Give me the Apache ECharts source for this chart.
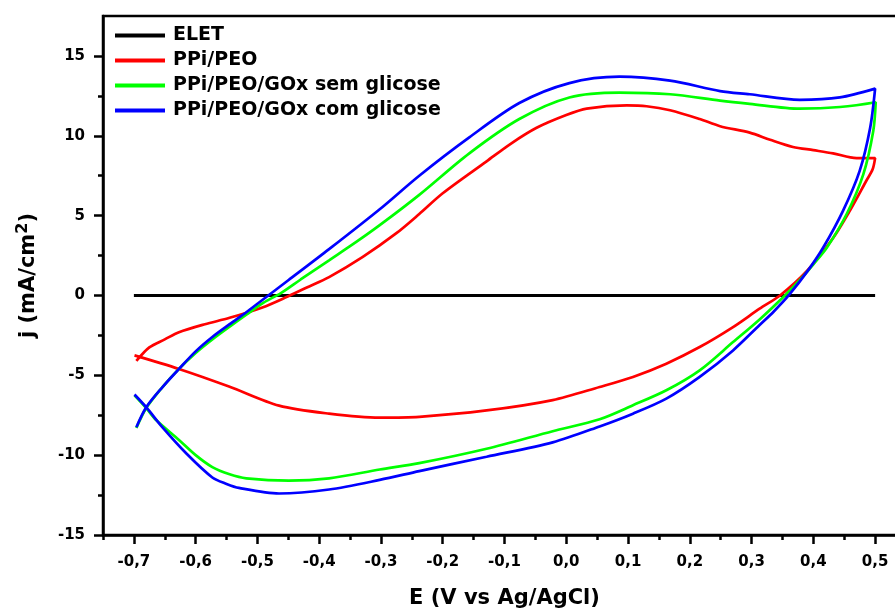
<!DOCTYPE html>
<html>
<head>
<meta charset="utf-8">
<script src="https://cdn.jsdelivr.net/npm/echarts@6/dist/echarts.min.js"></script>
<style>html,body{margin:0;padding:0;background:#fff}#c{width:895px;height:610px}</style>
</head>
<body>
<div id="c"></div>
<script>
// ---- data ----
const seriesNames = ['ELET', 'PPi/PEO', 'PPi/PEO/GOx sem glicose', 'PPi/PEO/GOx com glicose'];

const eletE = [-0.7, -0.4, 0.0, 0.3, 0.5];
const eletJ = [0, 0, 0, 0, 0];

const redE = [-0.696, -0.675, -0.65, -0.627, -0.585, -0.545, -0.492, -0.453, -0.42, -0.384, -0.33, -0.275, -0.238, -0.2, -0.129, -0.09, -0.048, 0.0, 0.033, 0.098, 0.13, 0.168, 0.216, 0.249, 0.297, 0.33, 0.367, 0.4, 0.432, 0.47, 0.5,
  0.496, 0.486, 0.459, 0.432, 0.39, 0.346, 0.313, 0.27, 0.216, 0.162, 0.108, 0.054, -0.022, -0.129, -0.238, -0.302, -0.384, -0.465, -0.546, -0.627, -0.699];
const redJ = [-4.1, -3.25, -2.75, -2.3, -1.8, -1.4, -0.75, -0.1, 0.5, 1.15, 2.4, 3.9, 5.1, 6.4, 8.4, 9.5, 10.5, 11.3, 11.7, 11.9, 11.85, 11.6, 11.05, 10.6, 10.2, 9.75, 9.3, 9.1, 8.9, 8.6, 8.6,
  7.9, 7.2, 5.3, 3.6, 1.55, 0.0, -0.83, -1.98, -3.23, -4.27, -5.1, -5.73, -6.55, -7.2, -7.6, -7.65, -7.4, -6.9, -5.7, -4.6, -3.75];

const greenE = [-0.696, -0.68, -0.654, -0.627, -0.6, -0.573, -0.545, -0.518, -0.49, -0.462, -0.43, -0.384, -0.34, -0.302, -0.238, -0.157, -0.076, 0.005, 0.086, 0.168, 0.249, 0.297, 0.378, 0.443, 0.501,
  0.497, 0.481, 0.454, 0.422, 0.4, 0.38, 0.354, 0.313, 0.27, 0.216, 0.162, 0.108, 0.054, -0.022, -0.129, -0.238, -0.302, -0.384, -0.449, -0.518, -0.545, -0.573, -0.6, -0.627, -0.664, -0.68, -0.699];
const greenJ = [-8.3, -7.05, -5.75, -4.6, -3.6, -2.75, -1.95, -1.2, -0.45, 0.15, 1.0, 2.2, 3.35, 4.4, 6.3, 8.9, 11.05, 12.4, 12.7, 12.6, 12.2, 12.0, 11.7, 11.8, 12.1,
  10.3, 7.6, 5.1, 3.0, 1.95, 1.05, 0.0, -1.5, -2.92, -4.69, -5.94, -6.875, -7.75, -8.5, -9.6, -10.5, -10.9, -11.45, -11.6, -11.45, -11.2, -10.75, -10.0, -9.05, -7.8, -7.05, -6.25];

const blueE = [-0.696, -0.68, -0.654, -0.627, -0.6, -0.573, -0.545, -0.518, -0.484, -0.45, -0.384, -0.302, -0.238, -0.157, -0.076, 0.005, 0.086, 0.168, 0.249, 0.297, 0.378, 0.443, 0.5,
  0.492, 0.475, 0.448, 0.416, 0.392, 0.36, 0.336, 0.313, 0.27, 0.216, 0.162, 0.108, 0.054, -0.022, -0.129, -0.238, -0.302, -0.384, -0.465, -0.53, -0.55, -0.573, -0.615, -0.654, -0.68, -0.699];
const blueJ = [-8.25, -7.0, -5.75, -4.6, -3.5, -2.6, -1.8, -1.05, -0.05, 0.95, 2.9, 5.4, 7.5, 9.9, 12.05, 13.3, 13.7, 13.45, 12.8, 12.6, 12.25, 12.4, 12.95,
  10.5, 7.8, 5.3, 3.0, 1.6, 0.0, -1.0, -1.85, -3.44, -5.1, -6.46, -7.4, -8.2, -9.2, -10.1, -11.0, -11.55, -12.15, -12.4, -12.05, -11.8, -11.4, -9.9, -8.25, -7.0, -6.2];

const xMajorTicks = [-0.7, -0.6, -0.5, -0.4, -0.3, -0.2, -0.1, 0.0, 0.1, 0.2, 0.3, 0.4, 0.5];
const xMinorTicks = [-0.75, -0.65, -0.55, -0.45, -0.35, -0.25, -0.15, -0.05, 0.05, 0.15, 0.25, 0.35, 0.45];
const yMajorTicks = [-15, -10, -5, 0, 5, 10, 15];
const yMinorTicks = [-12.5, -7.5, -2.5, 2.5, 7.5, 12.5];

// ---- chart ----
const zip = (a, b) => a.map((v, i) => [v, b[i]]);
const FONT = 'DejaVu Sans';
const tickStyle = { color: '#000', width: 2.5 };

const chart = echarts.init(document.getElementById('c'), null, { renderer: 'canvas' });
chart.setOption({
  animation: false,
  backgroundColor: '#fff',
  grid: { left: 103, top: 16, width: 803, height: 519, show: true, borderColor: '#000', borderWidth: 2.5, containLabel: false, outerBoundsMode: 'none' },
  legend: {
    orient: 'vertical', left: 110, top: 21, itemGap: 6,
    icon: 'rect', itemWidth: 50, itemHeight: 4,
    textStyle: { fontFamily: FONT, fontWeight: 'bold', fontSize: 19, color: '#000', padding: [0, 0, 0, 3] },
    data: seriesNames
  },
  xAxis: [
    {
      type: 'value', min: -0.75, max: 0.55, position: 'bottom', splitLine: { show: false },
      axisLine: { show: true, onZero: false, lineStyle: { color: '#000', width: 2.5 } },
      axisTick: { show: true, inside: false, length: 9, customValues: xMajorTicks, lineStyle: tickStyle },
      axisLabel: { customValues: xMajorTicks, margin: 20, fontFamily: FONT, fontWeight: 'bold', fontSize: 15, color: '#000',
        formatter: v => v.toFixed(1).replace('.', ',').replace('-0,0', '0,0') },
      name: 'E (V vs Ag/AgCl)', nameLocation: 'middle', nameGap: 53,
      nameTextStyle: { fontFamily: FONT, fontWeight: 'bold', fontSize: 21, color: '#000' }
    },
    {
      type: 'value', min: -0.75, max: 0.55, position: 'bottom', splitLine: { show: false },
      axisLine: { show: false, onZero: false },
      axisTick: { show: true, inside: false, length: 5, customValues: xMinorTicks, lineStyle: tickStyle },
      axisLabel: { show: false }
    }
  ],
  yAxis: [
    {
      type: 'value', min: -15, max: 17.5, position: 'left', splitLine: { show: false },
      axisLine: { show: true, onZero: false, lineStyle: { color: '#000', width: 2.5 } },
      axisTick: { show: true, inside: false, length: 9, customValues: yMajorTicks, lineStyle: tickStyle },
      axisLabel: { customValues: yMajorTicks, margin: 18, fontFamily: FONT, fontWeight: 'bold', fontSize: 15, color: '#000' },
      name: '{a|j (mA/cm}{s|2}{a|)}', nameLocation: 'middle', nameGap: 60, nameRotate: 90,
      nameTextStyle: { rich: {
        a: { fontFamily: FONT, fontWeight: 'bold', fontSize: 21, color: '#000' },
        s: { fontFamily: FONT, fontWeight: 'bold', fontSize: 16, color: '#000', verticalAlign: 'top', padding: [0, 0, 12, 0] }
      } }
    },
    {
      type: 'value', min: -15, max: 17.5, position: 'left', splitLine: { show: false },
      axisLine: { show: false, onZero: false },
      axisTick: { show: true, inside: false, length: 5, customValues: yMinorTicks, lineStyle: tickStyle },
      axisLabel: { show: false }
    }
  ],
  series: [
    { name: seriesNames[0], type: 'line', data: zip(eletE, eletJ), showSymbol: false, symbol: 'none', color: '#000000', lineStyle: { width: 3 } },
    { name: seriesNames[1], type: 'line', data: zip(redE, redJ), showSymbol: false, symbol: 'none', smooth: 0.3, color: '#ff0000', lineStyle: { width: 2.7 } },
    { name: seriesNames[2], type: 'line', data: zip(greenE, greenJ), showSymbol: false, symbol: 'none', smooth: 0.3, color: '#00ff00', lineStyle: { width: 2.7 } },
    { name: seriesNames[3], type: 'line', data: zip(blueE, blueJ), showSymbol: false, symbol: 'none', smooth: 0.3, color: '#0000ff', lineStyle: { width: 2.7 } }
  ]
});
</script>
</body>
</html>
